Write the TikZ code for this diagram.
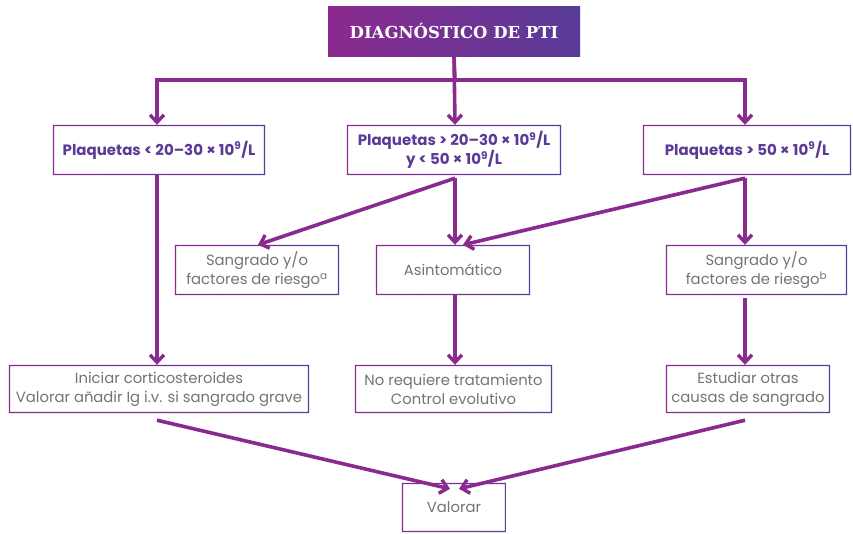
\documentclass[tikz,border=0pt]{standalone}
\usepackage{fontspec}
\setmainfont{Poppins}
\newfontfamily\slabfont{DejaVu Serif}
\usetikzlibrary{arrows.meta,calc}

\definecolor{plum}{HTML}{8B2A8E}
\definecolor{violet}{HTML}{583C98}
\definecolor{ink}{HTML}{5B3A96}
\definecolor{greytext}{HTML}{747477}

\tikzset{
  box/.style={rectangle, minimum height=50pt, inner sep=2pt, align=center,
    font=\fontsize{14.8}{19}\selectfont, text=greytext},
  keybox/.style={box, font=\bfseries\fontsize{15}{19}\selectfont, text=ink},
  arr/.style={draw=plum, line width=3.6pt, -{Straight Barb[length=7.5pt,width=14pt,line width=3.4pt]}},
}

\begin{document}
\begin{tikzpicture}[x=1pt,y=-1pt]
\useasboundingbox[fill=white] (0,0) rectangle (853,533);

% title banner
\shade[left color=plum, right color=violet] (328,6) rectangle (580,56);
\node (title) at (454,31) [minimum width=252pt, minimum height=50pt,
  text=white, font=\slabfont\bfseries\fontsize{16.5}{20}\selectfont] {DIAGNÓSTICO DE PTI};

% first level
\node[keybox, minimum width=212pt] (low) at (159,150) {Plaquetas < 20–30 × 10\textsuperscript{9}/L};
\node[keybox, minimum width=214pt] (mid) at (454,150) {Plaquetas > 20–30 × 10\textsuperscript{9}/L\\y < 50 × 10\textsuperscript{9}/L};
\node[keybox, minimum width=208pt] (high) at (747,150) {Plaquetas > 50 × 10\textsuperscript{9}/L};

% second level
\node[box, minimum width=164pt] (riskA) at (257,270) {Sangrado y/o\\factores de riesgo\textsuperscript{a}};
\node[box, minimum width=154pt] (asym) at (453,270) {Asintomático};
\node[box, minimum width=181pt] (riskB) at (756.5,270) {Sangrado y/o\\factores de riesgo\textsuperscript{b}};

% actions
\node[box, minimum width=300pt, minimum height=48pt] (cortico) at (159,389) {Iniciar corticosteroides\\Valorar añadir Ig i.v. si sangrado grave};
\node[box, minimum width=197pt, minimum height=48pt] (follow) at (453.5,389) {No requiere tratamiento\\Control evolutivo};
\node[box, minimum width=164pt, minimum height=48pt] (causes) at (748,389) {Estudiar otras\\causas de sangrado};

\node[box, minimum width=104pt, minimum height=49pt] (assess) at (454,507.5) {Valorar};

% gradient frames round the boxes
\foreach \n in {low,mid,high,riskA,asym,riskB,cortico,follow,causes,assess}{
  \shade[left color=plum, right color=violet, even odd rule]
    (\n.south west) rectangle (\n.north east)
    ([shift={(1.4pt,-1.4pt)}]\n.north west) rectangle ([shift={(-1.4pt,1.4pt)}]\n.south east);
}

% connectors
\coordinate (split) at (455,80);
\draw[arr] (title.south) -- (split) -| ([xshift=-2pt]low.north);
\draw[arr] (split) -| ([xshift=-2pt]high.north);
\draw[arr] (title.south) -- ([xshift=1pt]mid.north);

\draw[arr] ([xshift=-2pt]low.south) -- ([xshift=-2pt]cortico.north);

\draw[arr] ([xshift=1pt,yshift=-3pt]mid.south) -- ([xshift=1pt]riskA.north);
\draw[arr] ([xshift=1pt,yshift=-3pt]mid.south) -- ([xshift=2pt]asym.north);
\draw[arr] ([xshift=-2pt,yshift=-3pt]high.south) -- ([xshift=10pt]asym.north);
\draw[arr] ([xshift=-2pt,yshift=-3pt]high.south) -- ([xshift=-2pt]high.south |- riskB.north);

\draw[arr] ([xshift=2pt]asym.south) -- ([xshift=2pt]asym.south |- follow.north);
\draw[arr] ([xshift=-3pt,yshift=-3pt]causes.north |- riskB.south) -- ([xshift=-3pt]causes.north);

\draw[arr] ([xshift=-2pt,yshift=-7pt]cortico.south) -- ([xshift=-4pt,yshift=-6pt]assess.north);
\draw[arr] ([xshift=-3pt,yshift=-7pt]causes.south) -- ([xshift=5pt,yshift=-6pt]assess.north);
\end{tikzpicture}
\end{document}
